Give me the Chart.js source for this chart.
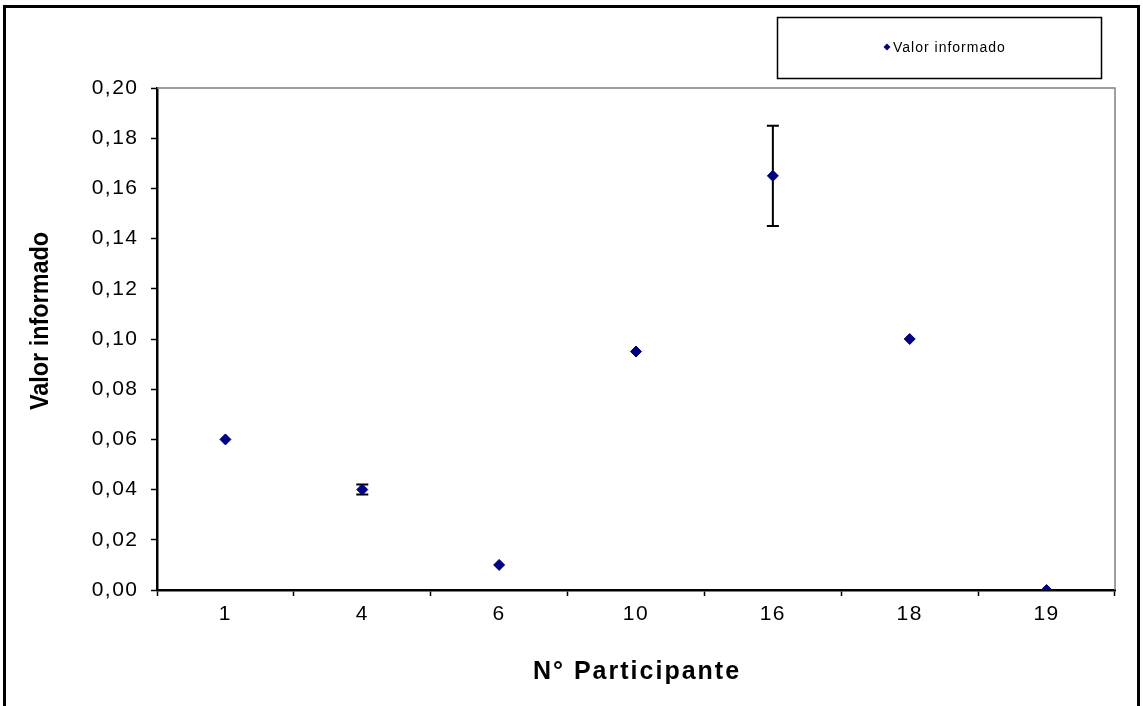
<!DOCTYPE html>
<html>
<head>
<meta charset="utf-8">
<script src="https://cdn.jsdelivr.net/npm/chart.js@4.4.0/dist/chart.umd.min.js"></script>
<style>
  html, body { margin: 0; padding: 0; background: #fff; }
  #wrap { width: 1143px; height: 706px; position: relative; }
</style>
</head>
<body>
<div id="wrap"><canvas id="myChart"></canvas></div>
<script>
// participants and reported values
var participants = ['1', '4', '6', '10', '16', '18', '19'];
var reported = [0.06, 0.04, 0.01, 0.095, 0.165, 0.10, 0.00];
var uncertainty = [0, 0.002, 0, 0, 0.02, 0, 0];
var yTicks = [0, 0.02, 0.04, 0.06, 0.08, 0.10, 0.12, 0.14, 0.16, 0.18, 0.20];

var markerColor = '#000080';

var fmt = function (v) {
    return v.toFixed(2).replace('.', ',');
};

// frame, legend box, axis titles, plot border, error bars
var extras = {
    id: 'extras',
    beforeDraw: function (chart) {
        // slightly wider letter spacing for tick labels, like the excel render
        chart.ctx.letterSpacing = '1.5px';
    },
    beforeDatasetsDraw: function (chart) {
        var ctx = chart.ctx;
        var x = chart.scales.x, y = chart.scales.y;
        var a = chart.chartArea;

        ctx.save();
        // top / right border of plot area
        ctx.strokeStyle = '#808080';
        ctx.lineWidth = 1.5;
        ctx.beginPath();
        ctx.moveTo(a.left, a.top);
        ctx.lineTo(a.right, a.top);
        ctx.lineTo(a.right, a.bottom);
        ctx.stroke();

        // error bars
        ctx.strokeStyle = '#000';
        ctx.lineWidth = 2;
        for (var i = 0; i < reported.length; i++) {
            if (!uncertainty[i]) continue;
            var px = x.getPixelForValue(i);
            var hi = y.getPixelForValue(reported[i] + uncertainty[i]);
            var lo = y.getPixelForValue(reported[i] - uncertainty[i]);
            ctx.beginPath();
            ctx.moveTo(px, hi); ctx.lineTo(px, lo);
            ctx.moveTo(px - 6, hi); ctx.lineTo(px + 6, hi);
            ctx.moveTo(px - 6, lo); ctx.lineTo(px + 6, lo);
            ctx.stroke();
        }
        ctx.restore();
    },
    afterDraw: function (chart) {
        var ctx = chart.ctx;
        ctx.save();

        // outer frame
        ctx.strokeStyle = '#000';
        ctx.lineWidth = 3;
        ctx.strokeRect(4.5, 6.5, 1134, 720);

        // legend box
        ctx.lineWidth = 1.5;
        ctx.strokeRect(777.5, 17.5, 324, 61);
        ctx.fillStyle = markerColor;
        ctx.beginPath();
        ctx.moveTo(887, 43.5); ctx.lineTo(890.5, 47); ctx.lineTo(887, 50.5); ctx.lineTo(883.5, 47);
        ctx.closePath();
        ctx.fill();
        ctx.fillStyle = '#000';
        ctx.letterSpacing = '1px';
        ctx.font = '14px "Liberation Sans", Arial, sans-serif';
        ctx.textBaseline = 'middle';
        ctx.textAlign = 'left';
        ctx.fillText('Valor informado', 893, 48);

        // x axis title
        ctx.letterSpacing = '2px';
        ctx.font = 'bold 25px "Liberation Sans", Arial, sans-serif';
        ctx.textAlign = 'center';
        ctx.fillText('N\u00b0 Participante', 637, 672);

        // y axis title (condensed)
        ctx.letterSpacing = '0px';
        ctx.translate(41, 321);
        ctx.rotate(-Math.PI / 2);
        ctx.scale(0.9, 1);
        ctx.font = 'bold 26px "Liberation Sans", Arial, sans-serif';
        ctx.fillText('Valor informado', 0, 0);
        ctx.restore();
    }
};

var ctx = document.getElementById('myChart').getContext('2d');
var myChart = new Chart(ctx, {
    type: 'line',
    data: {
        labels: participants,
        datasets: [{
            label: 'Valor informado',
            data: reported,
            showLine: false,
            pointStyle: 'rectRot',
            pointRadius: 5.5,
            pointHoverRadius: 5.5,
            backgroundColor: markerColor,
            borderColor: markerColor,
            borderWidth: 1
        }]
    },
    options: {
        responsive: true,
        maintainAspectRatio: false,
        animation: false,
        layout: { padding: { left: 0, top: 88, right: 28, bottom: 0 } },
        plugins: {
            legend: { display: false },
            title: { display: false },
            tooltip: { enabled: false }
        },
        scales: {
            x: {
                type: 'category',
                offset: true,
                afterFit: function (s) { s.height = 116; },
                grid: {
                    offset: true,
                    drawOnChartArea: false,
                    drawTicks: true,
                    tickLength: 6,
                    tickWidth: 1.5,
                    tickColor: '#000'
                },
                border: { color: '#000', width: 2.5 },
                ticks: {
                    color: '#000',
                    padding: 6,
                    font: { family: '"Liberation Sans", Arial, sans-serif', size: 21 }
                }
            },
            y: {
                min: 0,
                max: 0.2,
                afterFit: function (s) { s.width = 157; },
                afterBuildTicks: function (s) {
                    s.ticks = yTicks.map(function (v) { return { value: v }; });
                },
                grid: {
                    drawOnChartArea: false,
                    drawTicks: true,
                    tickLength: 6,
                    tickWidth: 1.5,
                    tickColor: '#000'
                },
                border: { color: '#000', width: 2.5 },
                ticks: {
                    color: '#000',
                    padding: 12.5,
                    font: { family: '"Liberation Sans", Arial, sans-serif', size: 21 },
                    callback: function (v) { return fmt(v); }
                }
            }
        }
    },
    plugins: [extras]
});
</script>
</body>
</html>
